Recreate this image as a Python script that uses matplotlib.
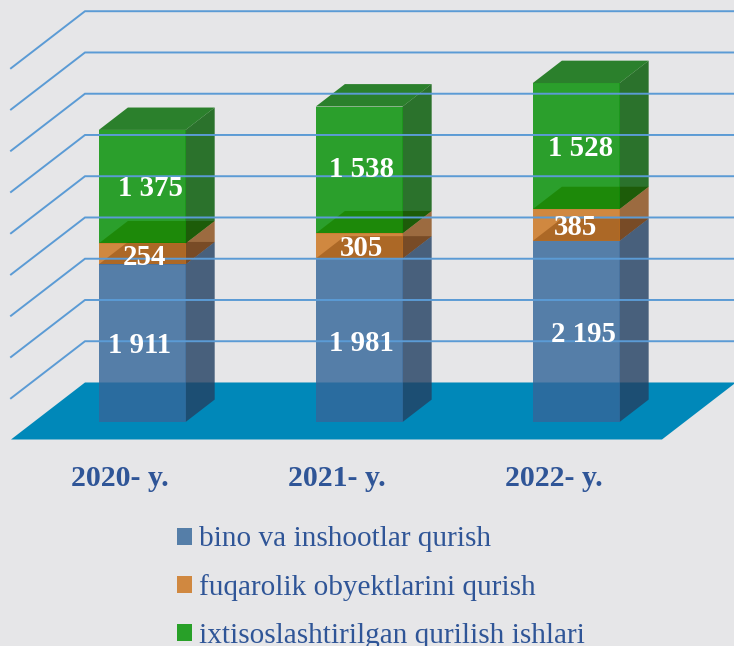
import matplotlib
matplotlib.use("Agg")
import matplotlib.pyplot as plt
from matplotlib.patches import Patch, Rectangle

years = ["2020- y.", "2021- y.", "2022- y."]
series_names = [
    "bino va inshootlar qurish",
    "fuqarolik obyektlarini qurish",
    "ixtisoslashtirilgan qurilish ishlari",
]
bino = [1911, 1981, 2195]
fuqarolik = [254, 305, 385]
ixtisos = [1375, 1538, 1528]
grid_values = [500, 1000, 1500, 2000, 2500, 3000, 3500, 4000, 4500]

BG = "#E6E6E8"
ALPHA = 0.81
TEXT_BLUE = "#2F5597"
# front, side, top colours of each stack part
front_cols = ["#346699", "#CB7219", "#008F00"]
side_cols = ["#234163", "#8B4F19", "#005700"]
top_cols = ["#00183F", "#8D590A", "#006900"]
legend_cols = ["#557EA8", "#D08840", "#28A028"]

# oblique projection: z=0 is the front of the floor, z=1 the back wall
DEPTH_X = 0.341
DEPTH_V = 691
Z_FRONT = 0.307
Z_BACK = 0.70
BAR_W = 0.40

# small nudges of the value labels, (category units, value units)
label_dx = [[-0.012, 0.012, 0.037], [0.012, 0.012, 0.012], [0.032, -0.005, 0.018]]
label_dv = [[-30, -45, -25], [-35, -30, 0], [-35, -30, -25]]


def proj(x, v, z):
    return x + DEPTH_X * z, v + DEPTH_V * z


def poly(ax, pts, **kw):
    xs, vs = zip(*[proj(*p) for p in pts])
    ax.fill(xs, vs, lw=0, **kw)


def main():
    plt.rcParams["font.family"] = ["Liberation Serif", "DejaVu Serif"]

    fig = plt.figure(figsize=(7.34, 6.46), dpi=100, facecolor=BG)
    ax = fig.add_axes([0, 0, 1, 1])
    ax.set_xlim(-0.5507, 2.832)
    ax.set_ylim(-2503, 5327)
    ax.axis("off")

    # floor
    poly(ax, [(-0.5, 0, 0), (2.5, 0, 0), (2.5, 0, 1), (-0.5, 0, 1)], color="#0088B9")

    # gridlines on left wall and back wall
    for g in grid_values:
        xs, vs = zip(proj(-0.5, g, 0), proj(-0.5, g, 1), proj(2.5, g, 1))
        ax.plot(xs, vs, color="#5B9BD5", lw=1.4, solid_joinstyle="miter")

    # stacks
    for i in range(len(years)):
        base = 0
        x0 = i - BAR_W / 2
        x1 = i + BAR_W / 2
        for s, vals in enumerate([bino, fuqarolik, ixtisos]):
            top = base + vals[i]
            style = dict(alpha=ALPHA)
            poly(ax, [(x1, base, Z_FRONT), (x1, base, Z_BACK), (x1, top, Z_BACK), (x1, top, Z_FRONT)],
                 color=side_cols[s], **style)
            poly(ax, [(x0, top, Z_FRONT), (x1, top, Z_FRONT), (x1, top, Z_BACK), (x0, top, Z_BACK)],
                 color=top_cols[s], **style)
            poly(ax, [(x0, base, Z_FRONT), (x1, base, Z_FRONT), (x1, top, Z_FRONT), (x0, top, Z_FRONT)],
                 color=front_cols[s], **style)

            # value label
            lx, lv = proj(i + label_dx[i][s], base + vals[i] / 2 + label_dv[i][s], Z_FRONT)
            t = ax.text(lx, lv, f"{vals[i]:,}".replace(",", " "), color="white", fontsize=20.8,
                        fontweight="bold", ha="center", va="center", zorder=5)
            if s == 1:
                # the blue box hides the foot of these labels
                _, clip_v = proj(0, base, Z_FRONT)
                t.set_clip_path(Rectangle((-1, clip_v), 5, 6000, transform=ax.transData))
            base = top

    # category labels
    for i, name in enumerate(years):
        ax.text(i, -472, name, color=TEXT_BLUE, fontsize=21.5, fontweight="bold",
                ha="center", va="center")

    handles = [Patch(facecolor=c, edgecolor="none") for c in legend_cols]
    ax.legend(handles, series_names, loc="upper left", bbox_to_anchor=(177 / 734, 1 - 526.5 / 646),
              frameon=False, fontsize=21.1, labelcolor=TEXT_BLUE, handlelength=0.51, handleheight=0.51,
              handletextpad=0.24, labelspacing=0.745, borderpad=0, borderaxespad=0)

    fig.savefig("out.png", dpi=100, facecolor=BG)
    plt.close(fig)


if __name__ == "__main__":
    main()
